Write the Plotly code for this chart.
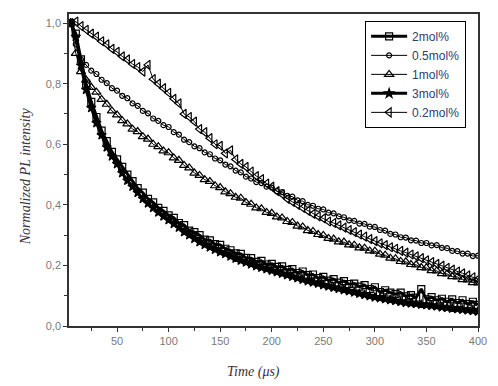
import plotly.graph_objects as go

# time axis (µs)
time_us = list(range(5, 405, 5))

# 2mol% (open squares)
s_2mol = [1.0, 0.965, 0.88, 0.80, 0.74, 0.69, 0.645, 0.61, 0.575, 0.55,
          0.525, 0.50, 0.478, 0.455, 0.44, 0.42, 0.408, 0.39, 0.38, 0.365,
          0.357, 0.34, 0.333, 0.315, 0.31, 0.30, 0.285, 0.283, 0.27, 0.268,
          0.255, 0.25, 0.24, 0.238, 0.225, 0.224, 0.212, 0.215, 0.203, 0.205,
          0.195, 0.197, 0.185, 0.188, 0.175, 0.18, 0.168, 0.17, 0.158, 0.162,
          0.15, 0.155, 0.143, 0.148, 0.138, 0.14, 0.13, 0.135, 0.122, 0.128,
          0.112, 0.118, 0.11, 0.105, 0.11, 0.098, 0.102, 0.094, 0.122, 0.088,
          0.095, 0.085, 0.09, 0.08, 0.088, 0.076, 0.085, 0.072, 0.08, 0.07]

# 0.5mol% (open circles)
s_05mol = [1.0, 0.93, 0.88, 0.862, 0.843, 0.832, 0.813, 0.802, 0.785, 0.777,
           0.76, 0.752, 0.735, 0.727, 0.71, 0.702, 0.685, 0.677, 0.663, 0.657,
           0.64, 0.632, 0.615, 0.607, 0.593, 0.587, 0.573, 0.567, 0.553, 0.547,
           0.533, 0.527, 0.513, 0.507, 0.493, 0.487, 0.475, 0.472, 0.46, 0.457,
           0.445, 0.442, 0.43, 0.427, 0.415, 0.412, 0.4, 0.397, 0.387, 0.385,
           0.374, 0.372, 0.362, 0.359, 0.349, 0.347, 0.338, 0.337, 0.328, 0.327,
           0.317, 0.315, 0.304, 0.302, 0.293, 0.292, 0.283, 0.282, 0.274, 0.274,
           0.266, 0.267, 0.258, 0.257, 0.248, 0.247, 0.239, 0.239, 0.231, 0.232]

# 1mol% (open up-triangles)
s_1mol = [1.0, 0.9, 0.84, 0.812, 0.788, 0.772, 0.748, 0.732, 0.71, 0.697,
          0.678, 0.667, 0.65, 0.642, 0.625, 0.617, 0.6, 0.592, 0.578, 0.572,
          0.555, 0.547, 0.53, 0.522, 0.505, 0.497, 0.483, 0.477, 0.463, 0.457,
          0.443, 0.437, 0.425, 0.422, 0.408, 0.402, 0.39, 0.387, 0.375, 0.372,
          0.36, 0.357, 0.345, 0.342, 0.33, 0.327, 0.315, 0.312, 0.302, 0.299,
          0.289, 0.287, 0.278, 0.277, 0.268, 0.267, 0.258, 0.257, 0.248, 0.247,
          0.237, 0.234, 0.224, 0.222, 0.213, 0.212, 0.203, 0.202, 0.193, 0.192,
          0.183, 0.182, 0.173, 0.172, 0.163, 0.162, 0.153, 0.152, 0.143, 0.142]

# 3mol% (stars)
s_3mol = [1.0, 0.955, 0.86, 0.78, 0.72, 0.67, 0.63, 0.59, 0.56, 0.535,
          0.505, 0.48, 0.46, 0.44, 0.42, 0.405, 0.39, 0.375, 0.362, 0.35,
          0.337, 0.325, 0.31, 0.30, 0.288, 0.277, 0.268, 0.26, 0.252, 0.244,
          0.238, 0.23, 0.223, 0.216, 0.21, 0.204, 0.198, 0.193, 0.188, 0.183,
          0.178, 0.173, 0.168, 0.163, 0.158, 0.153, 0.148, 0.144, 0.14, 0.135,
          0.131, 0.127, 0.123, 0.119, 0.115, 0.111, 0.107, 0.103, 0.099, 0.095,
          0.092, 0.089, 0.086, 0.083, 0.08, 0.077, 0.075, 0.073, 0.071, 0.069,
          0.067, 0.065, 0.062, 0.06, 0.058, 0.056, 0.054, 0.052, 0.05, 0.048]

# 0.2mol% (open left-triangles)
s_02mol = [1.0, 1.005, 0.99, 0.978, 0.965, 0.955, 0.94, 0.93, 0.915, 0.905,
           0.89, 0.88, 0.865, 0.855, 0.84, 0.862, 0.815, 0.80, 0.785, 0.77,
           0.75, 0.735, 0.70, 0.69, 0.675, 0.65, 0.64, 0.62, 0.6, 0.595,
           0.57, 0.58, 0.55, 0.535, 0.525, 0.51, 0.495, 0.485, 0.47, 0.46,
           0.445, 0.435, 0.42, 0.41, 0.4, 0.39, 0.38, 0.37, 0.362, 0.355,
           0.345, 0.34, 0.332, 0.325, 0.317, 0.31, 0.302, 0.295, 0.287, 0.28,
           0.273, 0.267, 0.26, 0.255, 0.248, 0.242, 0.236, 0.23, 0.224, 0.217,
           0.211, 0.205, 0.199, 0.192, 0.186, 0.18, 0.174, 0.167, 0.161, 0.155]

x_ticks = [50, 100, 150, 200, 250, 300, 350, 400]
y_ticks = [0.0, 0.2, 0.4, 0.6, 0.8, 1.0]
y_ticklabels = ["0,0", "0,2", "0,4", "0,6", "0,8", "1,0"]

series = [
    ("2mol%", s_2mol, "square-open", 7, 3),
    ("0.5mol%", s_05mol, "circle-open", 5, 1),
    ("1mol%", s_1mol, "triangle-up-open", 8, 1),
    ("3mol%", s_3mol, "star", 7, 3),
    ("0.2mol%", s_02mol, "triangle-left-open", 8, 1),
]

fig = go.Figure()
for name, vals, sym, size, lw in series:
    fig.add_trace(go.Scatter(
        x=time_us, y=vals, name=name, mode="lines+markers",
        line=dict(color="black", width=lw),
        marker=dict(symbol=sym, size=size, color="black",
                    line=dict(color="black", width=1.2)),
    ))

axis_font = dict(family="Liberation Sans, Arial, sans-serif", size=11, color="#7a7a7a")
title_font = dict(family="Liberation Serif, Times New Roman, serif", size=14, color="#3a3040")

fig.update_layout(
    width=498, height=386,
    margin=dict(l=69, r=20, t=14, b=60),
    plot_bgcolor="white", paper_bgcolor="white",
    showlegend=True,
    legend=dict(
        x=0.724, y=0.978, xanchor="left", yanchor="top",
        bordercolor="black", borderwidth=1, bgcolor="white",
        font=dict(family="Liberation Sans, Arial, sans-serif", size=12, color="#2B4070"),
        itemwidth=36, tracegroupgap=0,
    ),
    xaxis=dict(
        range=[3.4, 400], tickmode="array", tickvals=x_ticks,
        ticks="outside", ticklen=4, tickwidth=1.2, tickcolor="#333333",
        minor=dict(ticks="outside", ticklen=3, tickwidth=1.2, tickcolor="#333333", dtick=25, tick0=25),
        showline=True, linecolor="#333333", linewidth=1.5, mirror=True,
        showgrid=False, zeroline=False, tickfont=axis_font,
    ),
    yaxis=dict(
        range=[0, 1.03], tickmode="array", tickvals=y_ticks, ticktext=y_ticklabels,
        ticks="outside", ticklen=4, tickwidth=1.2, tickcolor="#333333",
        minor=dict(ticks="outside", ticklen=3, tickwidth=1.2, tickcolor="#333333", dtick=0.1, tick0=0.1),
        showline=True, linecolor="#333333", linewidth=1.5, mirror=True,
        showgrid=False, zeroline=False, tickfont=axis_font,
    ),
    annotations=[
        dict(text="<i>Time (\u03bcs)</i>", xref="paper", yref="paper",
             x=0.452, y=-0.147, xanchor="center", yanchor="middle",
             showarrow=False, font=title_font),
        dict(text="<i>Normalized PL intensity</i>", xref="paper", yref="paper",
             x=-0.1076, y=0.48, xanchor="center", yanchor="middle", textangle=-90,
             showarrow=False, font=title_font),
    ],
)

fig.write_html("out.html", config={"displayModeBar": False},
               post_script="document.body.style.margin='0px';")
